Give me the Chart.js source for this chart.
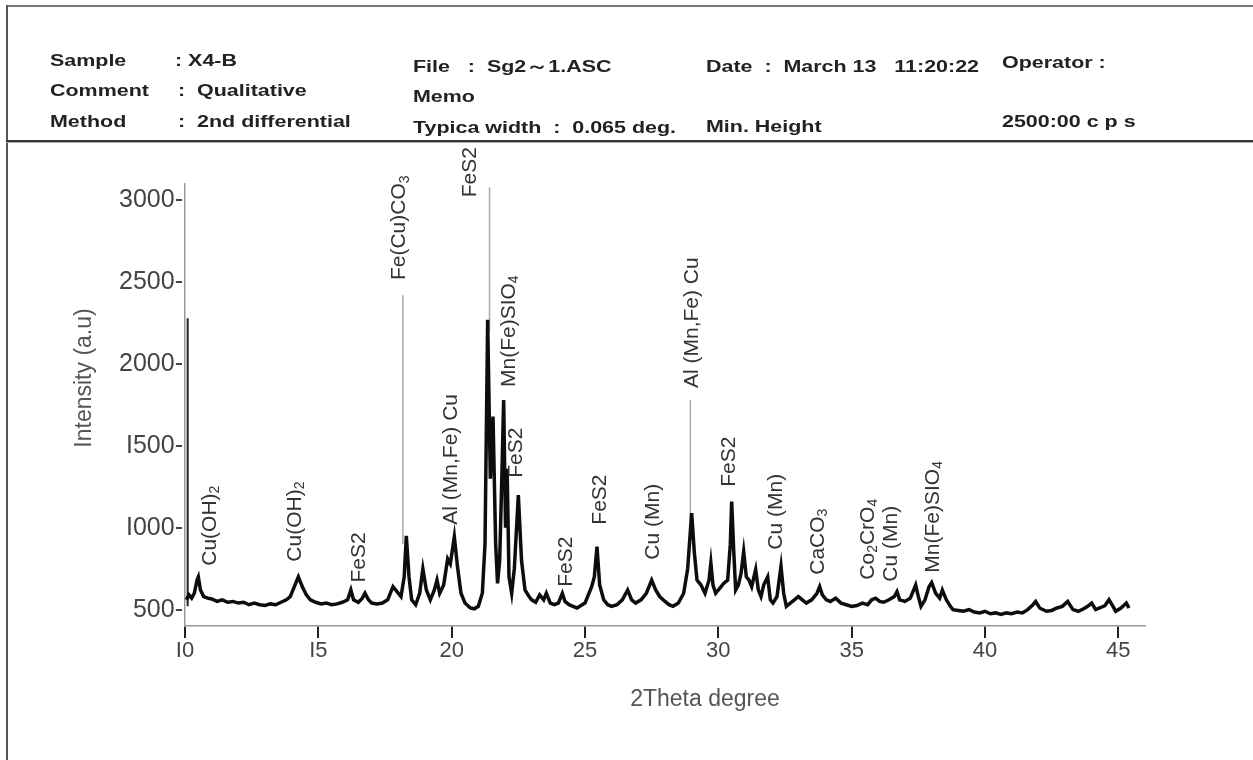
<!DOCTYPE html>
<html>
<head>
<meta charset="utf-8">
<script src="https://cdn.jsdelivr.net/npm/chart.js@4"></script>
<style>
  body { margin: 0; background: #fff; }
  #page { position: relative; width: 1253px; height: 760px; overflow: hidden; background: #fff; }
  #chartCanvas { position: absolute; left: 0; top: 0; }
  .hd { position: absolute; font-family: 'Liberation Sans', Arial, sans-serif; font-weight: bold; font-size: 16.5px;
        color: #222; white-space: pre; line-height: 18px; transform: scaleX(1.3); transform-origin: left center; }
  .ln { position: absolute; }
</style>
</head>
<body>
<div id="page">
  <canvas id="chartCanvas" width="1253" height="760"></canvas>
  <div class="ln" style="left:6px; top:5px; width:1247px; height:2px; background:#777;"></div>
  <div class="ln" style="left:6px; top:5px; width:2px; height:755px; background:#555;"></div>
  <div class="ln" style="left:6px; top:140px; width:1247px; height:2px; background:#333;"></div>
  <div class="ln" style="left:6px; top:142px; width:1247px; height:1px; background:#aaa;"></div>
  <div id="header"></div>
</div>
<script>
// 衍射谱数据 (2θ, 强度)
var thetaValues = [
  10.05, 10.15, 10.25, 10.35, 10.45, 10.5, 10.58, 10.7, 10.85, 11.0,
  11.2, 11.4, 11.6, 11.8, 12.0, 12.2, 12.4, 12.6, 12.8, 13.0,
  13.2, 13.4, 13.6, 13.8, 13.95, 14.1, 14.25, 14.4, 14.55, 14.7,
  14.9, 15.1, 15.3, 15.5, 15.7, 15.9, 16.1, 16.22, 16.32, 16.5,
  16.65, 16.75, 16.88, 17.0, 17.2, 17.4, 17.6, 17.8, 17.95, 18.1,
  18.22, 18.3, 18.4, 18.5, 18.65, 18.8, 18.92, 19.05, 19.2, 19.35,
  19.45, 19.55, 19.7, 19.85, 19.95, 20.1, 20.22, 20.35, 20.5, 20.7,
  20.85, 21.0, 21.15, 21.25, 21.35, 21.45, 21.55, 21.65, 21.72, 21.8,
  21.88, 21.95, 22.02, 22.08, 22.15, 22.25, 22.35, 22.5, 22.62, 22.75,
  22.9, 23.0, 23.15, 23.3, 23.45, 23.55, 23.7, 23.85, 24.0, 24.15,
  24.25, 24.4, 24.55, 24.7, 24.85, 25.0, 25.15, 25.25, 25.35, 25.45,
  25.55, 25.7, 25.85, 26.0, 26.2, 26.4, 26.6, 26.75, 26.9, 27.1,
  27.3, 27.5, 27.65, 27.8, 28.0, 28.15, 28.3, 28.5, 28.7, 28.85,
  29.0, 29.1, 29.2, 29.35, 29.5, 29.65, 29.72, 29.8, 29.9, 30.05,
  30.2, 30.35, 30.45, 30.5, 30.58, 30.65, 30.75, 30.85, 30.95, 31.05,
  31.15, 31.25, 31.4, 31.5, 31.6, 31.7, 31.85, 31.95, 32.05, 32.2,
  32.35, 32.45, 32.55, 32.7, 32.85, 33.0, 33.15, 33.3, 33.5, 33.7,
  33.8, 33.9, 34.05, 34.2, 34.4, 34.6, 34.8, 35.0, 35.2, 35.4,
  35.6, 35.75, 35.9, 36.05, 36.2, 36.4, 36.6, 36.7, 36.8, 37.0,
  37.2, 37.4, 37.5, 37.6, 37.75, 37.9, 38.0, 38.15, 38.3, 38.4,
  38.55, 38.7, 38.8, 39.0, 39.2, 39.4, 39.6, 39.8, 40.0, 40.2,
  40.4, 40.6, 40.8, 41.0, 41.2, 41.4, 41.6, 41.8, 41.9, 42.05,
  42.3, 42.5, 42.7, 42.9, 43.1, 43.3, 43.5, 43.7, 43.85, 44.0,
  44.15, 44.3, 44.5, 44.65, 44.8, 44.9, 45.1, 45.3, 45.4
];
var intensityValues = [
  560, 590, 570, 600, 680, 700, 620, 580, 570, 565,
  550, 560, 545, 550, 540, 545, 530, 540, 530, 525,
  535, 530, 545, 560, 580, 640, 700, 640, 590, 560,
  545, 535, 540, 530, 535, 545, 560, 620, 560, 545,
  570, 600, 560, 540, 535, 540, 560, 640, 610, 580,
  700, 950, 700, 560, 530, 600, 750, 620, 560, 620,
  680, 600, 650, 810, 780, 945, 760, 600, 540, 510,
  505, 520, 600, 900, 2270, 1300, 1680, 900, 660, 800,
  1300, 1780, 1000, 1360, 700, 600, 750, 1200, 800, 620,
  580, 560, 545, 590, 560, 600, 540, 530, 540, 600,
  550, 530, 520, 510, 525, 540, 600, 640, 700, 885,
  650, 560, 530, 520, 530, 560, 620, 560, 540, 560,
  600, 680, 620, 580, 550, 530, 520, 540, 600, 750,
  1090, 850, 680, 650, 600, 680, 785, 650, 600, 630,
  660, 680, 900, 1160, 850, 620, 650, 720, 855, 700,
  680, 640, 745, 620, 580, 650, 700, 560, 540, 580,
  765, 600, 520, 540, 560, 580, 560, 540, 560, 600,
  640, 590, 560, 550, 570, 540, 530, 520, 525, 540,
  530, 560, 570, 550, 545, 560, 580, 610, 560, 550,
  570, 650, 580, 520, 560, 640, 665, 600, 570, 620,
  560, 520, 500, 495, 490, 500, 485, 480, 490, 475,
  480, 470, 480, 475, 485, 480, 500, 530, 550, 510,
  490, 495, 510, 520, 550, 500, 490, 505, 520, 540,
  500, 510, 525, 560, 520, 490, 510, 540, 510
];

// 坐标轴刻度
var xTickValues = [10, 15, 20, 25, 30, 35, 40, 45];
var xTickText = ['I0', 'I5', '20', '25', '30', '35', '40', '45'];
var yTickValues = [500, 1000, 1500, 2000, 2500, 3000];
var yTickText = ['500', 'I000', 'I500', '2000', '2500', '3000'];

// 峰标注 ("_" 后面的字符为下标)
var peakLabelText = ['Cu(OH)_2', 'Cu(OH)_2', 'FeS2', 'Fe(Cu)CO_3', 'Al (Mn,Fe) Cu', 'FeS2',
  'Mn(Fe)SIO_4', 'FeS2', 'FeS2', 'FeS2', 'Cu (Mn)', 'Al (Mn,Fe) Cu', 'FeS2', 'Cu (Mn)',
  'CaCO_3', 'Co_2CrO_4', 'Cu (Mn)', 'Mn(Fe)SIO_4'];
var peakLabelX = [10.94, 14.12, 16.52, 18.05, 20.0, 20.71, 22.17, 22.43, 24.31, 25.58,
  27.57, 29.03, 30.41, 32.17, 33.75, 35.62, 36.48, 38.05];
var peakLabelY = [768, 793, 665, 2513, 1019, 3019, 1860, 1305, 640, 1019,
  805, 1854, 1250, 866, 713, 683, 671, 726];

// 竖直标记线
var markerX = [10.1, 18.17, 21.42, 28.95];
var markerTop = [2280, 2420, 3080, 1780];
var markerBottom = [520, 900, 2200, 1050];
var markerColor = ['#222', '#aaa', '#aaa', '#aaa'];

// 表头文字 [文字, left, 中心y]
var headerItems = [
  ['Sample', 50, 60], [': X4-B', 175, 60],
  ['Comment', 50, 90], [':  Qualitative', 178, 90],
  ['Method', 50, 121], [':  2nd differential', 178, 121],
  ['File   :  Sg2\uFF5E1.ASC', 413, 66],
  ['Memo', 413, 96],
  ['Typica width  :  0.065 deg.', 413, 127],
  ['Date  :  March 13   11:20:22', 706, 66],
  ['Min. Height', 706, 126],
  ['Operator :', 1002, 62],
  ['2500:00 c p s', 1002, 121]
];

var header = document.getElementById('header');
headerItems.forEach(function (item) {
  var d = document.createElement('div');
  d.className = 'hd';
  d.textContent = item[0];
  d.style.left = item[1] + 'px';
  d.style.top = (item[2] - 9) + 'px';
  header.appendChild(d);
});

var FONT = "'Liberation Sans', Arial, sans-serif";

function drawRichVertical(ctx, text, px, py) {
  // 逐段绘制, 下标字号更小并下移
  ctx.save();
  ctx.translate(px, py);
  ctx.rotate(-Math.PI / 2);
  ctx.textAlign = 'left';
  ctx.textBaseline = 'middle';
  ctx.fillStyle = '#333';
  var cx = 0;
  for (var i = 0; i < text.length; i++) {
    var ch = text[i];
    var sub = false;
    if (ch === '_') { sub = true; i++; ch = text[i]; }
    ctx.font = sub ? '14px ' + FONT : '21px ' + FONT;
    ctx.fillText(ch, cx, sub ? 5 : 0);
    cx += ctx.measureText(ch).width;
  }
  ctx.restore();
}

var labelPlugin = {
  id: 'peakLabels',
  afterDraw: function (chart) {
    var ctx = chart.ctx;
    var xs = chart.scales.x, ys = chart.scales.y;
    for (var i = 0; i < peakLabelText.length; i++) {
      drawRichVertical(ctx, peakLabelText[i], xs.getPixelForValue(peakLabelX[i]), ys.getPixelForValue(peakLabelY[i]));
    }
    // 坐标轴标题
    ctx.save();
    ctx.fillStyle = '#555';
    ctx.font = '23px ' + FONT;
    ctx.textAlign = 'center';
    ctx.textBaseline = 'middle';
    ctx.fillText('2Theta degree', 705, 700);
    ctx.translate(85, 378);
    ctx.rotate(-Math.PI / 2);
    ctx.fillText('Intensity (a.u)', 0, 0);
    ctx.restore();
  }
};

var datasets = [{
  label: 'XRD',
  data: thetaValues.map(function (t, i) { return { x: t, y: intensityValues[i] }; }),
  borderColor: '#0d0d0d',
  borderWidth: 3.5,
  pointRadius: 0,
  tension: 0
}];
for (var m = 0; m < markerX.length; m++) {
  datasets.push({
    label: 'marker' + m,
    data: [{ x: markerX[m], y: markerBottom[m] }, { x: markerX[m], y: markerTop[m] }],
    borderColor: markerColor[m],
    borderWidth: m === 0 ? 2 : 1.5,
    pointRadius: 0
  });
}

var ctx = document.getElementById('chartCanvas').getContext('2d');
var myChart = new Chart(ctx, {
  type: 'line',
  data: { datasets: datasets },
  options: {
    responsive: false,
    animation: false,
    devicePixelRatio: 1,
    layout: { padding: { left: 0, top: 184, right: 108, bottom: 0 } },
    plugins: { legend: { display: false }, tooltip: { enabled: false } },
    scales: {
      x: {
        type: 'linear',
        min: 10,
        max: 46,
        afterBuildTicks: function (scale) {
          scale.ticks = xTickValues.map(function (v) { return { value: v }; });
        },
        afterFit: function (scale) { scale.height = 134; },
        border: { display: true, color: '#999', width: 1.5 },
        grid: { display: true, drawOnChartArea: false, drawTicks: true, tickLength: 12, color: '#222', lineWidth: 2 },
        ticks: {
          color: '#444',
          padding: 0,
          maxRotation: 0,
          font: { family: FONT, size: 22 },
          callback: function (value) {
            var idx = xTickValues.indexOf(value);
            return idx >= 0 ? xTickText[idx] : '';
          }
        }
      },
      y: {
        min: 400,
        max: 3100,
        afterBuildTicks: function (scale) {
          scale.ticks = yTickValues.map(function (v) { return { value: v }; });
        },
        afterFit: function (scale) { scale.width = 185; },
        border: { display: true, color: '#999', width: 1.5 },
        grid: { display: false, drawTicks: false },
        ticks: {
          color: '#444',
          padding: 2,
          font: { family: FONT, size: 25 },
          callback: function (value) {
            var idx = yTickValues.indexOf(value);
            return idx >= 0 ? yTickText[idx] + '-' : '';
          }
        }
      }
    }
  },
  plugins: [labelPlugin]
});
</script>
</body>
</html>
